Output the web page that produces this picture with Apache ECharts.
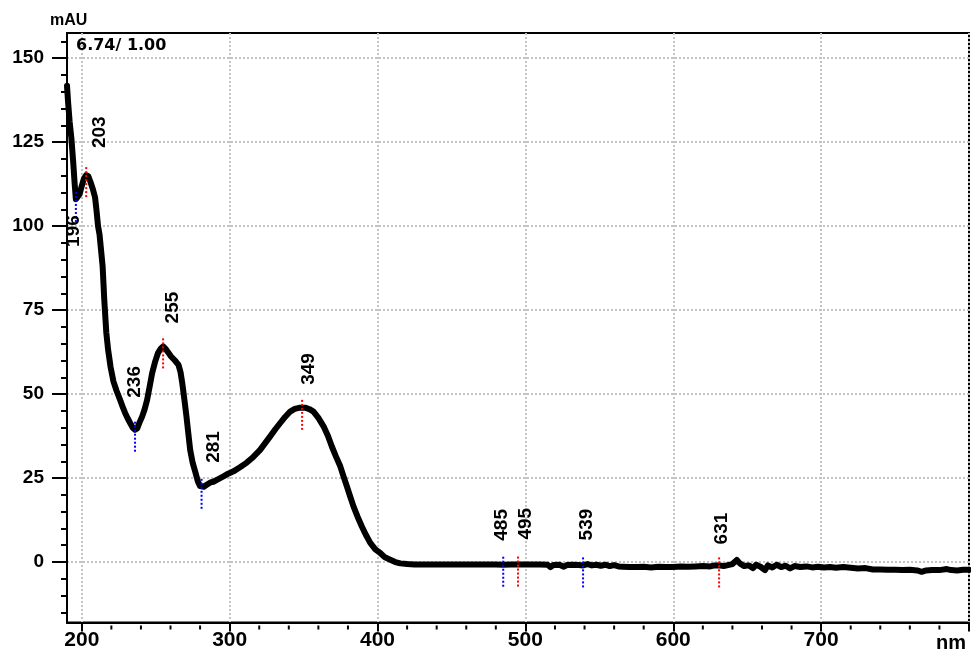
<!DOCTYPE html>
<html>
<head>
<meta charset="utf-8">
<script src="https://cdn.jsdelivr.net/npm/echarts@6/dist/echarts.min.js"></script>
<style>
  html, body { margin: 0; padding: 0; background: #fff; }
  #chart { width: 971px; height: 657px; }
</style>
</head>
<body>
<div id="chart"></div>
<script>
// UV-Vis absorbance spectrum (wavelength in nm, absorbance in mAU)
const wavelengths = [
  190.0, 190.8, 191.8, 193.0, 194.2, 195.2, 196.0, 197.0, 198.5, 200.0,
  201.5, 203.0, 204.5, 206.0, 207.5, 209.0, 210.0, 211.0, 212.0, 213.0,
  214.1, 215.2, 216.6, 217.8, 219.5, 221.4, 223.5, 225.9, 228.0, 229.3,
  231.0, 232.7, 234.5, 236.0, 237.5, 239.0, 240.8, 242.5, 244.2, 246.0,
  247.6, 249.5, 251.6, 253.5, 255.0, 257.0, 260.4, 263.0, 265.4, 266.8,
  267.9, 269.5, 270.8, 272.0, 273.3, 275.0, 276.9, 278.5, 280.0, 281.0,
  282.5, 284.5, 287.0, 289.0, 292.0, 295.8, 299.0, 302.6, 307.0, 311.6,
  316.0, 320.6, 324.0, 327.4, 331.0, 334.2, 337.5, 340.9, 344.0, 347.0,
  349.0, 351.5, 354.0, 356.7, 360.0, 363.5, 366.5, 369.1, 372.0, 374.8,
  377.0, 379.3, 381.5, 383.8, 386.5, 389.4, 392.0, 395.1, 398.5, 401.8,
  405.0, 408.6, 412.0, 415.4, 420.0, 425, 430, 435, 440, 445,
  450, 455, 460, 465, 470, 475, 480, 485, 490, 495,
  500, 505, 510, 515, 517, 519, 523, 526, 528, 532,
  536, 539, 542, 545, 548, 551, 554, 557, 560, 563,
  566, 570, 575, 580, 585, 590, 595, 600, 605, 610,
  615, 620, 625, 628, 631, 634, 637, 640, 643, 645,
  648, 651, 654, 656, 659, 662, 664, 667, 670, 673,
  676, 679, 682, 686, 690, 694, 698, 702, 706, 710,
  715, 720, 725, 730, 735, 740, 745, 750, 755, 760,
  765, 768, 771, 775, 780, 785, 788, 792, 796, 800
];
const absorbance = [
  141.8, 136.5, 131.0, 126.0, 119.0, 112.5, 108.0, 107.8, 109.5, 112.0,
  114.2, 115.2, 114.8, 113.0, 111.0, 108.5, 104.5, 100.0, 97.5, 93.0,
  88.0, 78.1, 68.2, 63.2, 58.0, 53.8, 51.0, 48.3, 45.8, 44.4,
  42.8, 41.4, 40.0, 39.4, 39.8, 41.5, 43.3, 45.5, 48.3, 52.5,
  56.3, 59.5, 62.3, 63.6, 64.2, 63.3, 61.2, 60.0, 58.7, 56.5,
  53.4, 48.0, 43.3, 38.5, 33.4, 29.5, 26.6, 24.0, 22.6, 22.4,
  22.4, 23.0, 23.7, 23.9, 24.6, 25.5, 26.3, 27.0, 28.2, 29.6,
  31.3, 33.4, 35.4, 37.4, 39.6, 41.4, 43.2, 44.8, 45.6, 45.9,
  45.9, 45.9, 45.5, 44.8, 42.9, 40.4, 37.5, 34.4, 31.3, 28.5,
  25.5, 22.5, 19.5, 16.5, 13.5, 10.6, 8.2, 5.7, 3.8, 2.7,
  1.4, 0.7, 0.0, -0.4, -0.6, -0.7, -0.7, -0.7, -0.7, -0.7,
  -0.7, -0.7, -0.7, -0.7, -0.7, -0.7, -0.75, -0.8, -0.7, -0.75,
  -0.7, -0.7, -0.75, -0.8, -1.5, -0.9, -0.8, -1.4, -0.9, -0.8,
  -0.9, -1.0, -0.6, -1.0, -0.8, -1.1, -0.8, -1.2, -0.9, -1.3,
  -1.4, -1.5, -1.5, -1.4, -1.6, -1.4, -1.5, -1.5, -1.3, -1.4,
  -1.3, -1.2, -1.3, -1.0, -1.0, -1.2, -0.9, -0.6, 0.6, -0.4,
  -1.2, -1.0, -1.8, -0.8, -1.4, -2.4, -1.0, -1.6, -0.8, -1.5,
  -1.1, -1.9, -1.2, -1.5, -1.3, -1.6, -1.4, -1.6, -1.5, -1.7,
  -1.5, -1.7, -1.9, -1.8, -2.2, -2.2, -2.3, -2.3, -2.4, -2.3,
  -2.5, -2.9, -2.5, -2.4, -2.4, -2.1, -2.4, -2.5, -2.3, -2.3
];

// Labelled maxima (red) and minima (blue)
const peakNm = [203, 255, 349, 495, 631];
const peakMAU = [115.2, 64.2, 45.9, -0.75, -1.0];
const valleyNm = [196, 236, 281, 485, 539];
const valleyMAU = [107.8, 39.4, 22.4, -0.8, -1.0];

// Axis ticks and labels
const yMajorTicks = [0, 25, 50, 75, 100, 125, 150];
const yMinorTicks = [-15, -10, -5, 5, 10, 15, 20, 30, 35, 40, 45, 55, 60, 65, 70,
  80, 85, 90, 95, 105, 110, 115, 120, 130, 135, 140, 145, 155];
const xMajorTicks = [200, 300, 400, 500, 600, 700, 800];
const xLabelValues = [200, 300, 400, 500, 600, 700];
const xMinorTicks = [220, 240, 260, 280, 320, 340, 360, 380, 420, 440, 460, 480,
  520, 540, 560, 580, 620, 640, 660, 680, 720, 740, 760, 780];
const yUnit = 'mAU';
const xUnit = 'nm';
const scaleNote = '6.74/ 1.00';

// Placement of each rotated wavelength label: [dx, dy] of the text start
// relative to the marked point on the trace, in pixels
const labelPlacement = {
  196: [-2, 47], 203: [14, -27], 236: [0, -32], 255: [10, -23], 281: [12, -24],
  349: [7, -23], 485: [-1, -24], 495: [8, -25], 539: [4, -25], 631: [3, -21]
};

const FONT = '"Liberation Sans", Arial, sans-serif';
const Y_MIN = -18, Y_MAX = 157.5, X_MIN = 190, X_MAX = 800;

const traceData = wavelengths.map((w, i) => [w, absorbance[i]]);
const markerData = peakNm.map((w, i) => [w, peakMAU[i], 0])
  .concat(valleyNm.map((w, i) => [w, valleyMAU[i], 1]));

const gridLine = { color: '#c4c4c4', width: 2, type: [2, 2] };
const black = '#000';
const tickStyle = { color: black, width: 2 };

const chart = echarts.init(document.getElementById('chart'), null, { renderer: 'canvas' });

chart.setOption({
  animation: false,
  backgroundColor: '#fff',
  grid: {
    left: 67, right: 2, top: 33, bottom: 34.5,
    show: true, borderColor: black, borderWidth: 2,
    containLabel: false, outerBoundsMode: 'none'
  },
  xAxis: {
    type: 'value', min: X_MIN, max: X_MAX, position: 'bottom',
    name: xUnit, nameLocation: 'end', nameGap: -3,
    nameTextStyle: { align: 'right', verticalAlign: 'top', fontFamily: FONT,
      fontWeight: 'bold', fontSize: 20, color: black, padding: [11, 0, 0, 0] },
    axisLine: { show: true, onZero: false, lineStyle: tickStyle },
    axisTick: { show: true, customValues: xMajorTicks, length: 9, lineStyle: tickStyle },
    axisLabel: { customValues: xLabelValues, margin: 7, fontFamily: FONT, fontWeight: 'bold',
      fontSize: 21, color: black },
    splitLine: { show: true, lineStyle: gridLine }
  },
  yAxis: [
    {
      type: 'value', min: Y_MIN, max: Y_MAX, position: 'left',
      axisLine: { show: true, onZero: false, lineStyle: tickStyle },
      axisTick: { show: true, customValues: yMajorTicks, length: 15, lineStyle: tickStyle },
      axisLabel: { customValues: yMajorTicks, margin: 23, fontFamily: FONT, fontWeight: 'bold',
        fontSize: 19, color: black },
      splitLine: { show: true, lineStyle: gridLine }
    },
    {
      type: 'value', min: Y_MIN, max: Y_MAX, position: 'left',
      axisLine: { show: false, onZero: false },
      axisTick: { show: true, customValues: yMinorTicks, length: 6, lineStyle: tickStyle },
      axisLabel: { show: false },
      splitLine: { show: false }
    }
  ],
  series: [
    {
      type: 'line', xAxisIndex: 0, yAxisIndex: 0, data: traceData,
      showSymbol: false, symbol: 'none', silent: true, z: 3,
      lineStyle: { color: black, width: 6, join: 'round', cap: 'round' }
    },
    {
      type: 'custom', xAxisIndex: 0, yAxisIndex: 0, data: markerData, silent: true, z: 5,
      renderItem: function (params, api) {
        const nm = api.value(0);
        const p = api.coord([nm, api.value(1)]);
        const isValley = api.value(2) === 1;
        const off = labelPlacement[nm] || [6, -24];
        return {
          type: 'group',
          children: [
            {
              type: 'line',
              shape: { x1: p[0], y1: p[1] - 8, x2: p[0], y2: p[1] + 23 },
              style: { stroke: isValley ? '#0000ff' : '#ff0000', lineWidth: 2, lineDash: [2, 2] }
            },
            {
              type: 'text',
              x: p[0] + off[0], y: p[1] + off[1], rotation: Math.PI / 2,
              style: { text: String(nm), font: 'bold 19px ' + FONT, fill: black,
                align: 'left', verticalAlign: 'middle' }
            }
          ]
        };
      }
    }
  ]
});

// Unit captions, scale note and the short minor ticks under the wavelength axis,
// positioned through the chart's own coordinate conversion
const minorTickMarks = xMinorTicks.map(function (v) {
  const p = chart.convertToPixel({ xAxisIndex: 0, yAxisIndex: 0 }, [v, Y_MIN]);
  return {
    type: 'line', z: 100, silent: true,
    shape: { x1: p[0], y1: p[1] + 3, x2: p[0], y2: p[1] + 7 },
    style: { stroke: black, lineWidth: 2 }
  };
});
chart.setOption({
  graphic: [
    { type: 'text', left: 50, top: 13, style: { text: yUnit, font: 'bold 16px ' + FONT, fill: black } },
    { type: 'text', left: 76, top: 38, style: { text: scaleNote, font: 'bold 16px "DejaVu Sans", sans-serif', fill: black } }
  ].concat(minorTickMarks)
});
</script>
</body>
</html>
